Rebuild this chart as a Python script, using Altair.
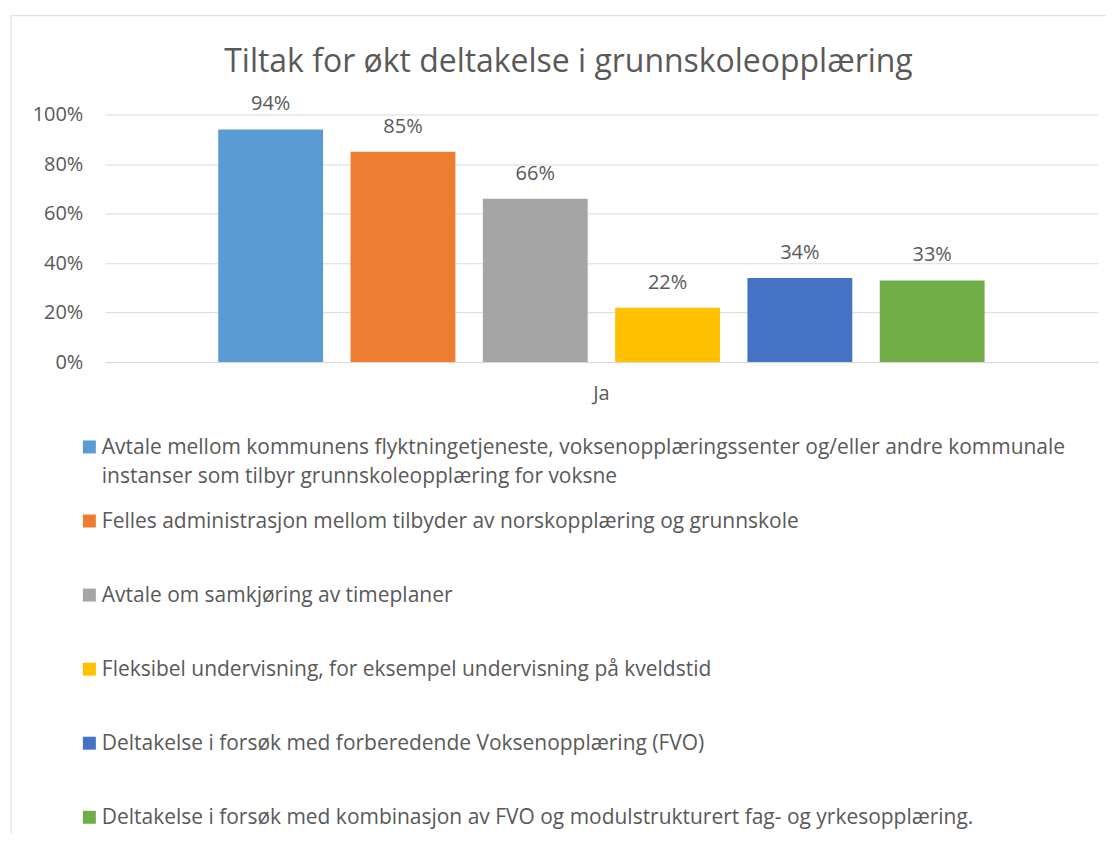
import altair as alt
import pandas as pd

title = "Tiltak for økt deltakelse i grunnskoleopplæring"
category = "Ja"
series = [
    "Avtale mellom kommunens flyktningetjeneste, voksenopplæringssenter og/eller andre kommunale\ninstanser som tilbyr grunnskoleopplæring for voksne",
    "Felles administrasjon mellom tilbyder av norskopplæring og grunnskole",
    "Avtale om samkjøring av timeplaner",
    "Fleksibel undervisning, for eksempel undervisning på kveldstid",
    "Deltakelse i forsøk med forberedende Voksenopplæring (FVO)",
    "Deltakelse i forsøk med kombinasjon av FVO og modulstrukturert fag- og yrkesopplæring.",
]
values = [0.94, 0.85, 0.66, 0.22, 0.34, 0.33]
colors = ["#5B9BD5", "#ED7D31", "#A5A5A5", "#FFC000", "#4472C4", "#70AD47"]
y_ticks = [0, 0.2, 0.4, 0.6, 0.8, 1.0]

FONT = "Open Sans"
TXT = "#595959"
GRID = "#D9D9D9"

df = pd.DataFrame({
    "cat": [category] * len(series),
    "series": series,
    "value": values,
    "idx": list(range(len(series))),
})

color_scale = alt.Scale(domain=series, range=colors)

base = alt.Chart(df)

x_enc = alt.X("cat:N", scale=alt.Scale(paddingOuter=0.148, paddingInner=0),
              axis=alt.Axis(title=None, labelAngle=0, ticks=False, domain=True,
                            domainColor=GRID, domainWidth=1, labelFontSize=20,
                            labelColor=TXT, labelFont=FONT, labelPadding=21))
xo_enc = alt.XOffset("series:N", sort=series,
                     scale=alt.Scale(paddingInner=0.2075, paddingOuter=0))

bars = base.mark_bar().encode(
    x=x_enc,
    xOffset=xo_enc,
    y=alt.Y("value:Q", scale=alt.Scale(domain=[0, 1]),
            axis=alt.Axis(title=None, values=y_ticks, format=".0%", ticks=False,
                          domain=False, grid=True, gridColor=GRID, gridWidth=1,
                          labelFontSize=20, labelColor=TXT, labelFont=FONT,
                          labelPadding=22)),
    color=alt.Color("series:N", scale=color_scale, legend=None),
)

labels = base.mark_text(baseline="middle", dy=-25, fontSize=20, color=TXT, font=FONT).encode(
    x=alt.X("cat:N"),
    xOffset=xo_enc,
    y=alt.Y("value:Q"),
    text=alt.Text("value:Q", format=".0%"),
)

top = alt.layer(bars, labels).properties(
    width=995, height=248,
    title=alt.TitleParams(title, fontSize=32, font=FONT, color=TXT, fontWeight="normal",
                          anchor="middle", dx=-33, offset=16),
)

# light chart-area frame (left and top edges), drawn in the legend panel
one = pd.DataFrame({"k": [0]})
frame_left = alt.Chart(one).mark_rule(color=GRID, strokeWidth=1).encode(
    x=alt.value(-94), y=alt.value(-432), y2=alt.value(387))
frame_top = alt.Chart(one).mark_rule(color=GRID, strokeWidth=1).encode(
    x=alt.value(-94), x2=alt.value(1003), y=alt.value(-432))

legend_y = alt.Y("idx:O", scale=alt.Scale(type="point", padding=0), axis=None)
sq = base.mark_square(size=169, opacity=1).encode(
    x=alt.value(-15.5),
    y=legend_y,
    color=alt.Color("series:N", scale=color_scale, legend=None),
)
txt = base.mark_text(align="left", baseline="top", dy=-10, fontSize=21, font=FONT,
                     color=TXT, lineBreak="\n", lineHeight=29).encode(
    x=alt.value(-3),
    y=legend_y,
    text="series:N",
)
legend = alt.layer(frame_left, frame_top, sq, txt).properties(width=995, height=371)

chart = alt.vconcat(top, legend, spacing=85, bounds="flush").properties(
    padding={"left": 2, "top": 6, "right": 0, "bottom": 0},
    background="white",
).configure_view(stroke=None)

chart.save("out.html", embed_options={"renderer": "svg", "actions": False})
